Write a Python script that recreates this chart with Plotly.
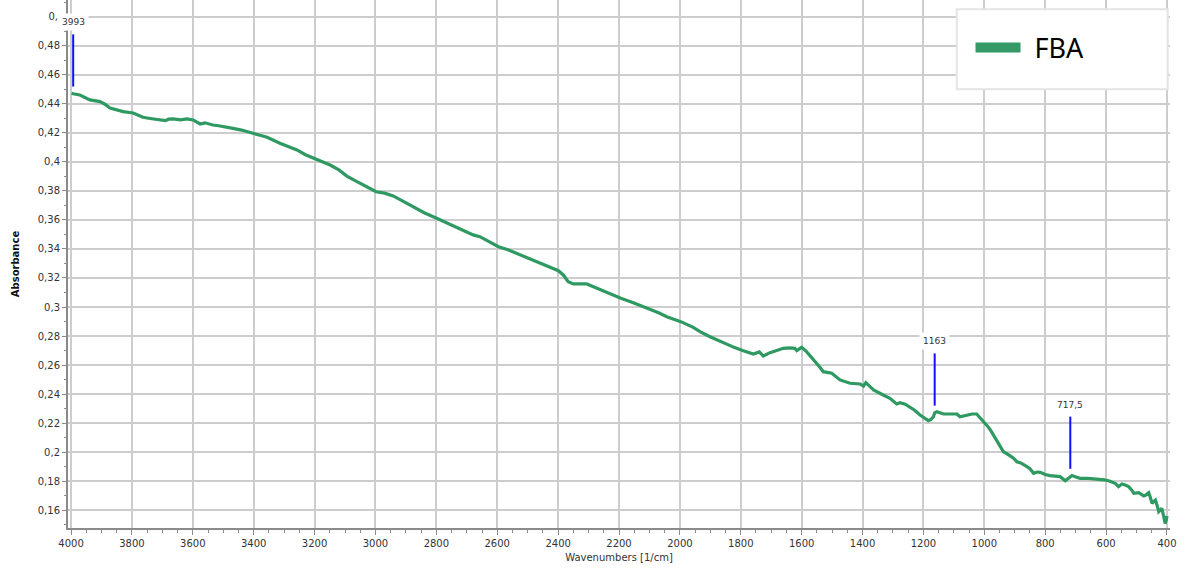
import plotly.graph_objects as go

# FTIR absorbance spectrum of the FBA sample
wavenumber = [
    3998, 3993, 3971, 3950, 3938, 3905, 3890, 3872, 3850, 3829, 3796, 3780, 3764, 3740,
    3708, 3690, 3680, 3665, 3640, 3620, 3599, 3576, 3560, 3534, 3515, 3501, 3468, 3440,
    3402, 3380, 3356, 3314, 3290, 3258, 3230, 3196, 3170, 3149, 3120, 3094, 3070, 3041,
    3020, 2998, 2970, 2942, 2910, 2877, 2840, 2799, 2760, 2722, 2679, 2657, 2630, 2596,
    2565, 2536, 2510, 2481, 2455, 2427, 2399, 2383, 2367, 2350, 2306, 2284, 2260, 2240,
    2215, 2194, 2153, 2125, 2098, 2070, 2043, 2020, 1997, 1956, 1934, 1901, 1870, 1846,
    1820, 1794, 1776, 1759, 1739, 1726, 1704, 1680, 1660, 1640, 1622, 1616, 1600, 1584,
    1570, 1556, 1540, 1529, 1501, 1474, 1441, 1408, 1397, 1389, 1364, 1332, 1310, 1288,
    1277, 1260, 1244, 1230, 1211, 1195, 1184, 1175, 1167, 1163, 1156, 1134, 1110, 1090,
    1080, 1060, 1040, 1025, 1015, 1003, 990, 980, 970, 958, 947, 937, 920, 904, 893, 880,
    860, 850, 838, 826, 816, 800, 784, 770, 751, 734, 723, 717.5, 712, 695, 685, 660, 640,
    625, 605, 592, 580, 570, 559, 548, 537, 526, 515, 509, 493, 484, 476, 468, 460, 455,
    449, 443, 438, 432, 427, 421, 417, 411, 406, 402, 400,
]
absorbance = [
    0.4474, 0.4470, 0.4462, 0.4440, 0.4428, 0.4416, 0.4400, 0.4372, 0.4360, 0.4347, 0.4338,
    0.4320, 0.4308, 0.4300, 0.4290, 0.4285, 0.4295, 0.4297, 0.4290, 0.4297, 0.4290, 0.4262,
    0.4270, 0.4255, 0.4250, 0.4243, 0.4232, 0.4220, 0.4198, 0.4185, 0.4170, 0.4129, 0.4110,
    0.4083, 0.4050, 0.4019, 0.4000, 0.3979, 0.3945, 0.3903, 0.3875, 0.3841, 0.3815, 0.3795,
    0.3785, 0.3766, 0.3730, 0.3692, 0.3650, 0.3612, 0.3575, 0.3543, 0.3497, 0.3485, 0.3455,
    0.3416, 0.3395, 0.3370, 0.3345, 0.3324, 0.3300, 0.3274, 0.3250, 0.3221, 0.3174, 0.3159,
    0.3159, 0.3140, 0.3118, 0.3099, 0.3078, 0.3060, 0.3030, 0.3008, 0.2984, 0.2960, 0.2933,
    0.2915, 0.2899, 0.2860, 0.2830, 0.2795, 0.2765, 0.2740, 0.2720, 0.2700, 0.2688, 0.2676,
    0.2690, 0.2662, 0.2685, 0.2700, 0.2715, 0.2718, 0.2715, 0.2699, 0.2722, 0.2692, 0.2660,
    0.2623, 0.2585, 0.2554, 0.2543, 0.2497, 0.2474, 0.2469, 0.2455, 0.2478, 0.2428, 0.2393,
    0.2370, 0.2331, 0.2340, 0.2330, 0.2308, 0.2290, 0.2255, 0.2235, 0.2216, 0.2225, 0.2243,
    0.2270, 0.2278, 0.2262, 0.2262, 0.2262, 0.2243, 0.2255, 0.2262, 0.2262, 0.2240, 0.2209,
    0.2180, 0.2152, 0.2115, 0.2071, 0.2035, 0.2002, 0.1980, 0.1957, 0.1933, 0.1925, 0.1899,
    0.1885, 0.1853, 0.1862, 0.1860, 0.1845, 0.1837, 0.1835, 0.1830, 0.1802, 0.1822, 0.1834,
    0.1838, 0.1825, 0.1818, 0.1818, 0.1815, 0.1812, 0.1808, 0.1802, 0.1795, 0.1784, 0.1761,
    0.1779, 0.1772, 0.1761, 0.1735, 0.1715, 0.1719, 0.1705, 0.1697, 0.1705, 0.1719, 0.1690,
    0.1646, 0.1660, 0.1669, 0.1630, 0.1588, 0.1600, 0.1612, 0.1560, 0.1508, 0.1530, 0.1559,
]

# Marked peaks (wavenumbers)
peaks = [3993, 1163, 717.5]

x_ticks = list(range(4000, 399, -200))
y_ticks = [0.16, 0.18, 0.20, 0.22, 0.24, 0.26, 0.28, 0.30, 0.32, 0.34, 0.36, 0.38,
           0.40, 0.42, 0.44, 0.46, 0.48, 0.50]
y_ticklabels = ["0,16", "0,18", "0,2", "0,22", "0,24", "0,26", "0,28", "0,3", "0,32",
                "0,34", "0,36", "0,38", "0,4", "0,42", "0,44", "0,46", "0,48", "0,\u2009"]

series_name = "FBA"
line_color = "#2e9961"
peak_color = "#1010ff"
grid_color = "#cdcdcd"
axis_color = "#8a8a8a"
label_font = dict(family="DejaVu Sans", size=10, color="#333333")

fig = go.Figure()
fig.add_trace(go.Scatter(
    x=wavenumber, y=absorbance, mode="lines",
    line=dict(color=line_color, width=3.2), showlegend=False, hoverinfo="x+y",
))
# legend entry with a thick swatch
fig.add_trace(go.Scatter(
    x=[None], y=[None], mode="lines", name="\u2009\u2009" + series_name,
    line=dict(color="#339966", width=12),
))

lookup = dict(zip(wavenumber, absorbance))
shapes = []
annotations = []
for p in peaks:
    v = lookup[p]
    shapes.append(dict(type="line", xref="x", yref="y", x0=p, x1=p,
                       y0=v + 0.005, y1=v + 0.041,
                       line=dict(color=peak_color, width=2)))
    annotations.append(dict(x=p, y=v + 0.041, xref="x", yref="y", showarrow=False,
                            text=f"{p:g}".replace(".", ","), yanchor="bottom", yshift=3,
                            bgcolor="white", borderpad=3,
                            font=dict(family="DejaVu Sans", size=9, color="#333333")))

# legend frame
shapes.append(dict(type="rect", xref="paper", yref="paper",
                   x0=0.8065, x1=0.9979, y0=0.8309, y1=0.9824,
                   fillcolor="white", line=dict(color="#e4e4e4", width=2)))

fig.update_layout(
    width=1191, height=573,
    margin=dict(l=68, r=21, t=0, b=45),
    paper_bgcolor="white", plot_bgcolor="white",
    separators=", ",
    font=label_font,
    shapes=shapes, annotations=annotations,
    showlegend=True,
    legend=dict(x=0.819, y=0.909, xanchor="left", yanchor="middle",
                bgcolor="rgba(0,0,0,0)", borderwidth=0, itemwidth=45,
                font=dict(family="Noto Sans", size=27, color="black")),
)
fig.update_xaxes(
    range=[4010, 390], tickvals=x_ticks, ticks="outside", ticklen=5,
    tickcolor=axis_color, tickfont=label_font,
    showgrid=True, gridcolor=grid_color, gridwidth=2,
    showline=True, linecolor=axis_color, linewidth=2, zeroline=False,
    minor=dict(dtick=50, tick0=0, ticks="outside", ticklen=3, tickcolor=axis_color,
               showgrid=False),
    title=dict(text="Wavenumbers [1/cm]", standoff=6,
               font=dict(family="DejaVu Sans", size=10, color="#333333")),
)
fig.update_yaxes(
    range=[0.1476, 0.5117], tickvals=y_ticks, ticktext=y_ticklabels,
    ticks="outside", ticklen=4, tickcolor=axis_color, tickfont=label_font,
    showgrid=True, gridcolor=grid_color, gridwidth=2,
    showline=True, linecolor=axis_color, linewidth=2, zeroline=False,
    minor=dict(dtick=0.01, ticks="outside", ticklen=2, tickcolor=axis_color,
               showgrid=False),
    title=dict(text="<b>Absorbance</b>", standoff=16,
               font=dict(family="DejaVu Sans", size=10, color="#111111")),
)

fig.write_html("out.html")
